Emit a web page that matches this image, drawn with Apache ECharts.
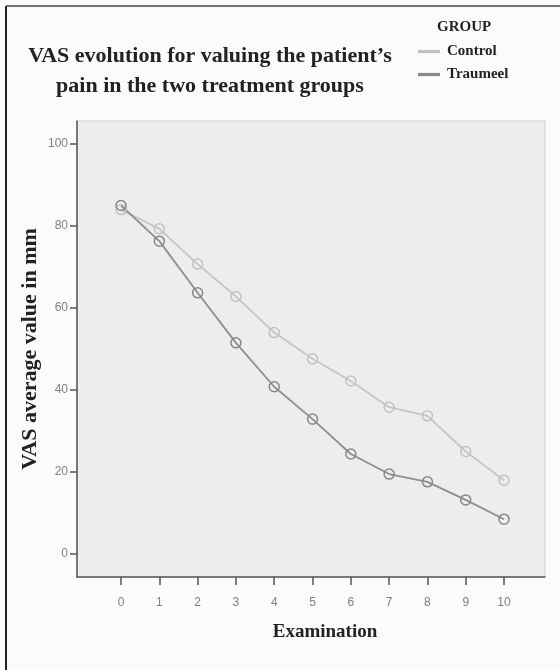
<!DOCTYPE html>
<html>
<head>
<meta charset="utf-8">
<script src="https://cdn.jsdelivr.net/npm/echarts@6/dist/echarts.min.js"></script>
<style>
html,body{margin:0;padding:0;background:#ffffff;}
#c{width:560px;height:670px;}
</style>
</head>
<body>
<div id="c"></div>
<script>
const examinations = [0,1,2,3,4,5,6,7,8,9,10];
const controlValues = [84,79.3,70.7,62.8,54,47.6,42.2,35.8,33.7,25,18];
const traumeelValues = [85,76.3,63.7,51.5,40.8,32.9,24.4,19.5,17.6,13.2,8.5];
const yTicks = [0,20,40,60,80,100];
const seriesNames = ['Control','Traumeel'];

const serif = "'Liberation Serif', 'Times New Roman', serif";
const sans = "'Liberation Sans', Arial, sans-serif";

const chart = echarts.init(document.getElementById('c'), null, {renderer:'canvas'});
const option = {
  backgroundColor: '#fbfbfb',
  animation: false,
  title: {
    text: 'VAS evolution for valuing the patient\u2019s\npain in the two treatment groups',
    left: 205, top: 36, textAlign: 'center',
    textStyle: {fontFamily: serif, fontWeight: 'bold', fontSize: 22, lineHeight: 30, color: '#222'}
  },
  legend: {
    orient: 'vertical', left: 413, top: 39, itemGap: 8,
    icon: 'rect', itemWidth: 20, itemHeight: 1.2,
    data: seriesNames,
    textStyle: {fontFamily: serif, fontWeight: 'bold', fontSize: 15, color: '#222', padding: [0,0,0,3]}
  },
  grid: {left: 77, right: 15, top: 121, bottom: 93, show: true, backgroundColor: '#ecedef', borderColor: '#cfcfcf', borderWidth: 1},
  xAxis: {
    type: 'value', min: -1.15, max: 11.07,
    name: 'Examination', nameLocation: 'middle', nameGap: 46, nameMoveOverlap: false,
    nameTextStyle: {fontFamily: serif, fontWeight: 'bold', fontSize: 19, color: '#222', padding: [0,0,0,28]},
    axisLine: {show: true, onZero: false, lineStyle: {color: '#555', width: 1.5}},
    axisTick: {show: true, length: 8, lineStyle: {color: '#555', width: 1.5}, customValues: examinations},
    axisLabel: {margin: 20, fontFamily: sans, fontSize: 12, color: '#808080', customValues: examinations},
    splitLine: {show: false}
  },
  yAxis: {
    type: 'value', min: -5.6, max: 105.6,
    name: 'VAS average value in mm', nameLocation: 'middle', nameGap: 36, nameMoveOverlap: false,
    nameTextStyle: {fontFamily: serif, fontWeight: 'bold', fontSize: 22, color: '#222'},
    axisLine: {show: true, onZero: false, lineStyle: {color: '#555', width: 1.5}},
    axisTick: {show: true, length: 7, lineStyle: {color: '#555', width: 1.5}, customValues: yTicks},
    axisLabel: {margin: 9, fontFamily: sans, fontSize: 12, color: '#808080', customValues: yTicks},
    splitLine: {show: false}
  },
  graphic: [
    {type: 'text', left: 437, top: 20, style: {text: 'GROUP', font: "bold 15px 'Liberation Serif'", fill: '#222'}},
    {type: 'line', shape: {x1: 6, y1: 6, x2: 6, y2: 670}, style: {stroke: '#222', lineWidth: 2}},
    {type: 'line', shape: {x1: 6, y1: 6, x2: 560, y2: 6}, style: {stroke: '#444', lineWidth: 1.5}}
  ],
  series: [
    {
      name: seriesNames[0], type: 'line',
      data: examinations.map((x,i) => [x, controlValues[i]]),
      symbol: 'circle', symbolSize: 10,
      lineStyle: {color: '#c6c6c6', width: 1.8},
      itemStyle: {color: 'rgba(0,0,0,0)', borderColor: '#c2c2c2', borderWidth: 1.5}
    },
    {
      name: seriesNames[1], type: 'line',
      data: examinations.map((x,i) => [x, traumeelValues[i]]),
      symbol: 'circle', symbolSize: 10,
      lineStyle: {color: '#8e8e8e', width: 1.8},
      itemStyle: {color: 'rgba(0,0,0,0)', borderColor: '#888', borderWidth: 1.5}
    }
  ]
};
option.legend.data = seriesNames.map((n,i) => ({name: n, itemStyle: {color: i===0 ? '#d0d0d0' : '#9a9a9a'}}));
chart.setOption(option);
</script>
</body>
</html>
